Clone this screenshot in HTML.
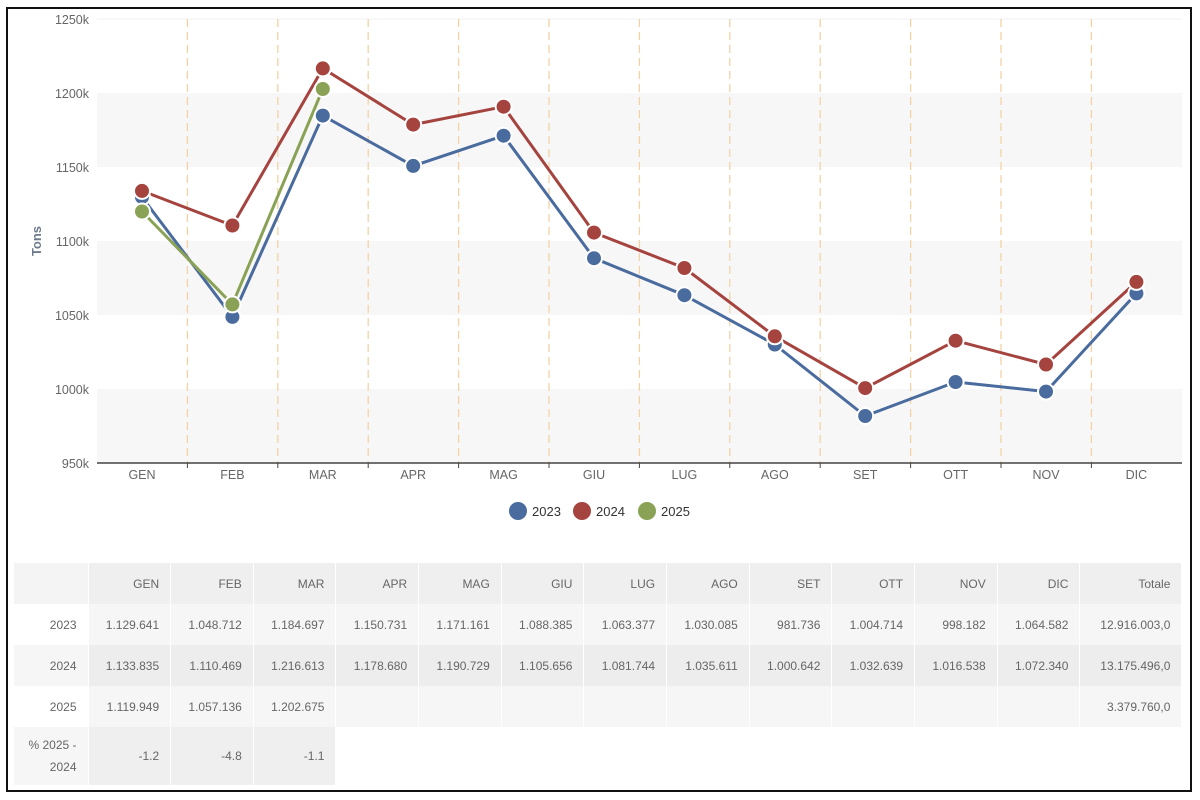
<!DOCTYPE html>
<html><head><meta charset="utf-8">
<style>
html,body{margin:0;padding:0;background:#fff;}
body{width:1200px;height:800px;position:relative;overflow:hidden;font-family:"Liberation Sans",sans-serif;}
#frame{position:absolute;left:6px;top:7px;width:1182px;height:781px;border:2px solid #111;box-sizing:content-box;}
svg{position:absolute;left:0;top:0;}
table{position:absolute;left:14px;top:563px;border-collapse:collapse;font-size:12px;color:#666;table-layout:fixed;width:1168px;}
td{text-align:right;padding:0 11px 0 0;height:41px;border-right:1px solid #fff;overflow:hidden;white-space:nowrap;}
tr.h td{background:#efefef;}
tr.h td.f{background:#f4f4f4;}
tr.a td{background:#f6f6f6;}
tr.a td.f{background:#fff;}
tr.b td{background:#ededed;}
tr.b td.f{background:#f6f6f6;}
tr.p td{height:58px;background:#efefef;}
tr.p td.f{background:#f6f6f6;line-height:22px;white-space:normal;}
tr.p td.e{background:#fff;}
</style></head><body>
<div id="frame"></div>
<svg width="1200" height="800" font-family="Liberation Sans, sans-serif">
<rect x="97" y="93" width="1085" height="74" fill="#f7f7f7"/>
<rect x="97" y="241" width="1085" height="74" fill="#f7f7f7"/>
<rect x="97" y="389" width="1085" height="74" fill="#f7f7f7"/>
<line x1="97" y1="19" x2="1182" y2="19" stroke="#f2f2f2"/>
<g stroke="#f3d3a6" stroke-width="1.3" stroke-dasharray="8,5">
<line x1="187.4" y1="19" x2="187.4" y2="463"/><line x1="277.8" y1="19" x2="277.8" y2="463"/>
<line x1="368.2" y1="19" x2="368.2" y2="463"/><line x1="458.6" y1="19" x2="458.6" y2="463"/>
<line x1="549" y1="19" x2="549" y2="463"/><line x1="639.4" y1="19" x2="639.4" y2="463"/>
<line x1="729.8" y1="19" x2="729.8" y2="463"/><line x1="820.2" y1="19" x2="820.2" y2="463"/>
<line x1="910.6" y1="19" x2="910.6" y2="463"/><line x1="1001" y1="19" x2="1001" y2="463"/>
<line x1="1091.4" y1="19" x2="1091.4" y2="463"/>
</g>
<line x1="97" y1="463" x2="1182" y2="463" stroke="#444" stroke-width="1.5"/>
<g stroke="#444"><line x1="187.4" y1="463" x2="187.4" y2="468"/><line x1="277.8" y1="463" x2="277.8" y2="468"/><line x1="368.2" y1="463" x2="368.2" y2="468"/><line x1="458.6" y1="463" x2="458.6" y2="468"/><line x1="549" y1="463" x2="549" y2="468"/><line x1="639.4" y1="463" x2="639.4" y2="468"/><line x1="729.8" y1="463" x2="729.8" y2="468"/><line x1="820.2" y1="463" x2="820.2" y2="468"/><line x1="910.6" y1="463" x2="910.6" y2="468"/><line x1="1001" y1="463" x2="1001" y2="468"/><line x1="1091.4" y1="463" x2="1091.4" y2="468"/></g>
<g font-size="12.5" fill="#666" text-anchor="end">
<text x="89" y="24">1250k</text><text x="89" y="98">1200k</text><text x="89" y="172">1150k</text><text x="89" y="246">1100k</text><text x="89" y="320">1050k</text><text x="89" y="394">1000k</text><text x="89" y="468">950k</text>
</g>
<text transform="translate(41,241) rotate(-90)" font-size="13" font-weight="bold" fill="#6d7a8c" text-anchor="middle">Tons</text>
<g font-size="12.5" fill="#666" text-anchor="middle">
<text x="142" y="479">GEN</text><text x="232.4" y="479">FEB</text><text x="322.8" y="479">MAR</text><text x="413.2" y="479">APR</text><text x="503.6" y="479">MAG</text><text x="594" y="479">GIU</text><text x="684.4" y="479">LUG</text><text x="774.8" y="479">AGO</text><text x="865.2" y="479">SET</text><text x="955.6" y="479">OTT</text><text x="1046" y="479">NOV</text><text x="1136.4" y="479">DIC</text>
</g>
<g fill="none" stroke-width="3" stroke-linejoin="round">
<polyline stroke="#4a6b9e" points="142,197.1 232.4,316.9 322.8,115.6 413.2,165.9 503.6,135.7 594,258.2 684.4,295.2 774.8,344.5 865.2,416 955.6,382 1046,391.6 1136.4,293.4"/>
<polyline stroke="#a5443f" points="142,190.9 232.4,225.5 322.8,68.4 413.2,124.6 503.6,106.7 594,232.6 684.4,268 774.8,336.3 865.2,388.1 955.6,340.7 1046,364.5 1136.4,281.9"/>
<polyline stroke="#8aa255" points="142,211.5 232.4,304.4 322.8,89"/>
</g>
<g stroke="#fff" stroke-width="2">
<g fill="#4a6b9e"><circle cx="142" cy="197.1" r="8"/><circle cx="232.4" cy="316.9" r="8"/><circle cx="322.8" cy="115.6" r="8"/><circle cx="413.2" cy="165.9" r="8"/><circle cx="503.6" cy="135.7" r="8"/><circle cx="594" cy="258.2" r="8"/><circle cx="684.4" cy="295.2" r="8"/><circle cx="774.8" cy="344.5" r="8"/><circle cx="865.2" cy="416" r="8"/><circle cx="955.6" cy="382" r="8"/><circle cx="1046" cy="391.6" r="8"/><circle cx="1136.4" cy="293.4" r="8"/></g>
<g fill="#a5443f"><circle cx="142" cy="190.9" r="8"/><circle cx="232.4" cy="225.5" r="8"/><circle cx="322.8" cy="68.4" r="8"/><circle cx="413.2" cy="124.6" r="8"/><circle cx="503.6" cy="106.7" r="8"/><circle cx="594" cy="232.6" r="8"/><circle cx="684.4" cy="268" r="8"/><circle cx="774.8" cy="336.3" r="8"/><circle cx="865.2" cy="388.1" r="8"/><circle cx="955.6" cy="340.7" r="8"/><circle cx="1046" cy="364.5" r="8"/><circle cx="1136.4" cy="281.9" r="8"/></g>
<g fill="#8aa255"><circle cx="142" cy="211.5" r="8"/><circle cx="232.4" cy="304.4" r="8"/><circle cx="322.8" cy="89" r="8"/></g>
</g>
<g font-size="13" fill="#333">
<circle cx="518" cy="511" r="9" fill="#4a6b9e"/><text x="532" y="516">2023</text>
<circle cx="582" cy="511" r="9" fill="#a5443f"/><text x="596" y="516">2024</text>
<circle cx="647" cy="511" r="9" fill="#8aa255"/><text x="661" y="516">2025</text>
</g>
</svg>
<table>
<colgroup><col style="width:74px"><col style="width:82.67px"><col style="width:82.67px"><col style="width:82.67px"><col style="width:82.67px"><col style="width:82.67px"><col style="width:82.67px"><col style="width:82.67px"><col style="width:82.67px"><col style="width:82.67px"><col style="width:82.67px"><col style="width:82.67px"><col style="width:82.67px"><col style="width:102px"></colgroup>
<tr class="h"><td class="f"></td><td>GEN</td><td>FEB</td><td>MAR</td><td>APR</td><td>MAG</td><td>GIU</td><td>LUG</td><td>AGO</td><td>SET</td><td>OTT</td><td>NOV</td><td>DIC</td><td>Totale</td></tr>
<tr class="a"><td class="f">2023</td><td>1.129.641</td><td>1.048.712</td><td>1.184.697</td><td>1.150.731</td><td>1.171.161</td><td>1.088.385</td><td>1.063.377</td><td>1.030.085</td><td>981.736</td><td>1.004.714</td><td>998.182</td><td>1.064.582</td><td>12.916.003,0</td></tr>
<tr class="b"><td class="f">2024</td><td>1.133.835</td><td>1.110.469</td><td>1.216.613</td><td>1.178.680</td><td>1.190.729</td><td>1.105.656</td><td>1.081.744</td><td>1.035.611</td><td>1.000.642</td><td>1.032.639</td><td>1.016.538</td><td>1.072.340</td><td>13.175.496,0</td></tr>
<tr class="a"><td class="f">2025</td><td>1.119.949</td><td>1.057.136</td><td>1.202.675</td><td></td><td></td><td></td><td></td><td></td><td></td><td></td><td></td><td></td><td>3.379.760,0</td></tr>
<tr class="p"><td class="f">% 2025 -<br>2024</td><td>-1.2</td><td>-4.8</td><td>-1.1</td><td class="e"></td><td class="e"></td><td class="e"></td><td class="e"></td><td class="e"></td><td class="e"></td><td class="e"></td><td class="e"></td><td class="e"></td><td class="e"></td></tr>
</table>
</body></html>
